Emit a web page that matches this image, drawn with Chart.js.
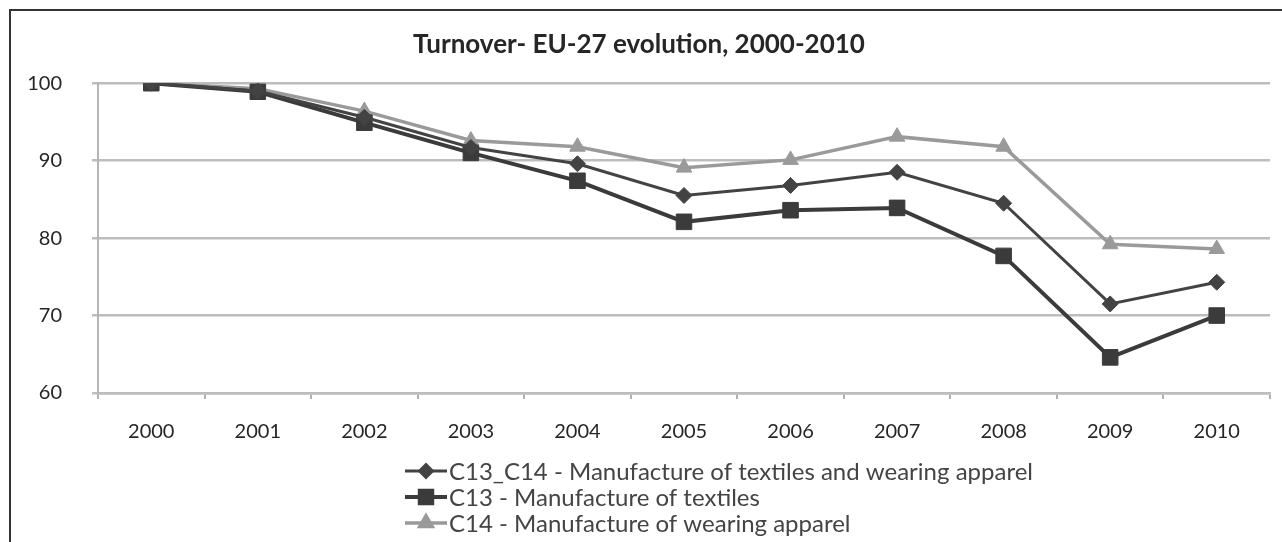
<!DOCTYPE html>
<html>
<head>
<meta charset="utf-8">
<title>Turnover- EU-27 evolution, 2000-2010</title>
<script src="https://cdn.jsdelivr.net/npm/chart.js@4.4.1/dist/chart.umd.min.js"></script>
<style>
  html, body { margin: 0; padding: 0; background: #ffffff; overflow: hidden; }
  #wrap { position: absolute; left: 0; top: 0; width: 1282px; height: 580px; }
</style>
</head>
<body>
<div id="wrap"><canvas id="chart" width="1282" height="580"></canvas></div>
<script>
// Turnover index, EU-27 (2000 = 100)
const years = ['2000', '2001', '2002', '2003', '2004', '2005', '2006', '2007', '2008', '2009', '2010'];
const textilesAndApparel = [100, 99.0, 95.6, 91.7, 89.6, 85.5, 86.8, 88.5, 84.5, 71.5, 74.3];
const textiles = [100, 98.9, 94.9, 91.0, 87.4, 82.1, 83.6, 83.9, 77.7, 64.6, 70.0];
const apparel = [100, 99.3, 96.4, 92.6, 91.8, 89.1, 90.1, 93.1, 91.8, 79.2, 78.6];
const yTickValues = [60, 70, 80, 90, 100];
const seriesLabels = [
  'C13_C14 - Manufacture of textiles and wearing apparel',
  'C13 - Manufacture of textiles',
  'C14 - Manufacture of wearing apparel'
];

const FONT = 'Lato, "DejaVu Sans", sans-serif';
const TEXT = '#262626';

// Outer frame and a stacked legend (one entry per row) drawn below the axis
const frameAndLegend = {
  id: 'frameAndLegend',
  afterDraw(chart) {
    const ctx = chart.ctx;
    ctx.save();
    ctx.strokeStyle = '#333333';
    ctx.lineWidth = 2;
    ctx.beginPath();
    ctx.moveTo(10, 600);
    ctx.lineTo(10, 10);
    ctx.lineTo(1300, 10);
    ctx.stroke();

    const rowY = [471, 497, 523];
    const x0 = 405, x1 = 447, xm = (x0 + x1) / 2;
    ctx.font = '24px ' + FONT;
    ctx.textBaseline = 'middle';
    ctx.textAlign = 'left';
    chart.data.datasets.forEach((ds, i) => {
      const y = rowY[i];
      ctx.strokeStyle = ds.borderColor;
      ctx.lineWidth = ds.borderWidth;
      ctx.beginPath();
      ctx.moveTo(x0, y);
      ctx.lineTo(x1, y);
      ctx.stroke();
      ctx.fillStyle = ds.pointBackgroundColor;
      ctx.strokeStyle = ds.pointBorderColor;
      Chart.helpers.drawPoint(ctx, {
        pointStyle: ds.pointStyle,
        radius: ds.pointRadius * 0.8,
        rotation: 0,
        borderWidth: 1
      }, xm, y);
      ctx.fillStyle = '#444444';
      ctx.fillText(ds.label, x1 + 2, y + 1);
    });
    ctx.restore();
  }
};

new Chart(document.getElementById('chart'), {
  type: 'line',
  data: {
    labels: years,
    datasets: [
      {
        label: seriesLabels[0],
        data: textilesAndApparel,
        borderColor: '#434343',
        borderWidth: 3,
        pointStyle: 'rectRot',
        pointRadius: 8,
        pointBackgroundColor: '#434343',
        pointBorderColor: '#434343',
        pointBorderWidth: 1,
        tension: 0
      },
      {
        label: seriesLabels[1],
        data: textiles,
        borderColor: '#3b3b3b',
        borderWidth: 4,
        pointStyle: 'rect',
        pointRadius: 11,
        pointBackgroundColor: '#3b3b3b',
        pointBorderColor: '#3b3b3b',
        pointBorderWidth: 1,
        tension: 0
      },
      {
        label: seriesLabels[2],
        data: apparel,
        borderColor: '#9a9a9a',
        borderWidth: 3.5,
        pointStyle: 'triangle',
        pointRadius: 9,
        pointBackgroundColor: '#9a9a9a',
        pointBorderColor: '#9a9a9a',
        pointBorderWidth: 1,
        tension: 0
      }
    ]
  },
  options: {
    responsive: false,
    animation: false,
    devicePixelRatio: 1,
    layout: { padding: { left: 0, right: 4, top: 0, bottom: 127 } },
    plugins: {
      legend: { display: false },
      tooltip: { enabled: false },
      title: {
        display: true,
        text: 'Turnover- EU-27 evolution, 2000-2010',
        color: TEXT,
        font: { family: FONT, size: 26, weight: 'bold', lineHeight: 1.2 },
        padding: { top: 29, bottom: 23 }
      }
    },
    scales: {
      x: {
        type: 'category',
        offset: true,
        afterFit(scale) { scale.height = 60; },
        grid: {
          offset: true,
          drawOnChartArea: false,
          drawTicks: true,
          tickLength: 6,
          tickColor: '#b0b0b0',
          lineWidth: 2
        },
        border: { display: true, color: '#bdbdbd', width: 2.5 },
        ticks: {
          color: TEXT,
          font: { family: FONT, size: 20 },
          padding: 21,
          maxRotation: 0,
          autoSkip: false
        }
      },
      y: {
        min: 60,
        max: 100,
        afterFit(scale) { scale.width = 98; },
        afterBuildTicks(scale) { scale.ticks = yTickValues.map(v => ({ value: v })); },
        grid: {
          color: '#bdbdbd',
          lineWidth: 2.5,
          drawTicks: true,
          tickLength: 6,
          tickColor: '#bdbdbd'
        },
        border: { display: true, color: '#b5b5b5', width: 2 },
        ticks: {
          color: TEXT,
          font: { family: FONT, size: 20 },
          padding: 30
        }
      }
    }
  },
  plugins: [frameAndLegend]
});
</script>
</body>
</html>
